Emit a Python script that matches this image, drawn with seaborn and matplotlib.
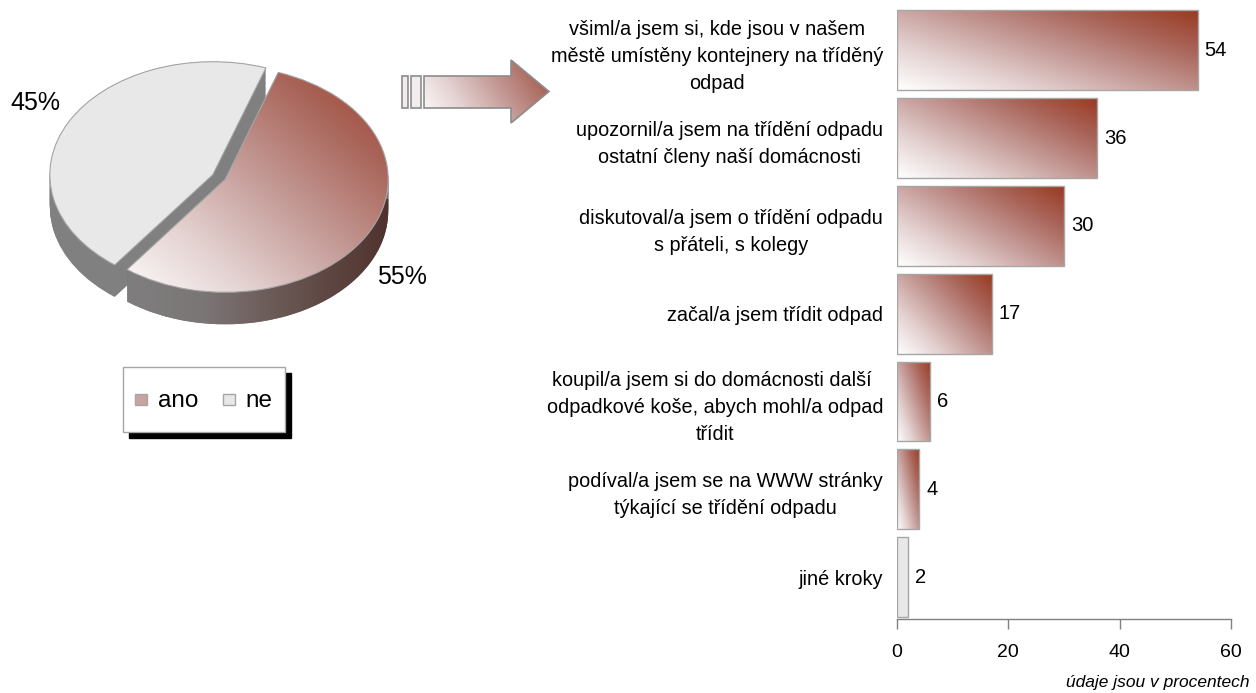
import numpy as np
import matplotlib
matplotlib.use('Agg')
import matplotlib.pyplot as plt
import seaborn as sns
from matplotlib.colors import LinearSegmentedColormap
from matplotlib.patches import Polygon, Rectangle, Patch
from matplotlib.legend_handler import HandlerPatch

# --- data -------------------------------------------------------------
pie_labels = ['ano', 'ne']
pie_values = [55, 45]
pie_texts = ['55%', '45%']

steps = [
    'všiml/a jsem si, kde jsou v našem\nměstě umístěny kontejnery na tříděný\nodpad',
    'upozornil/a jsem na třídění odpadu\nostatní členy naší domácnosti',
    'diskutoval/a jsem o třídění odpadu\ns přáteli, s kolegy',
    'začal/a jsem třídit odpad',
    'koupil/a jsem si do domácnosti další \nodpadkové koše, abych mohl/a odpad\ntřídit',
    'podíval/a jsem se na WWW stránky\ntýkající se třídění odpadu',
    'jiné kroky',
]
step_values = [54, 36, 30, 17, 6, 4, 2]
x_ticks = [0, 20, 40, 60]

# --- style ------------------------------------------------------------
sns.set_theme(style='white')
plt.rcParams['font.family'] = ['Liberation Sans', 'DejaVu Sans']
plt.rcParams['text.color'] = 'black'
plt.rcParams['xtick.labelcolor'] = 'black'
plt.rcParams['ytick.labelcolor'] = 'black'

W, H = 1256, 693
GREY_EDGE = '#a6a6a6'
LIGHT = '#e8e8e8'
grad_cmap = LinearSegmentedColormap.from_list(
    'brick', ['#ffffff', '#e4d3d2', '#c59c98', '#aa675c', '#9a3a22'])
side_cmap = LinearSegmentedColormap.from_list(
    'side', ['#808080', '#7b7676', '#65504c', '#4e2f2a'])


def box(x0, y0, x1, y1):
    """pixel box (origin top-left) -> figure fraction rect"""
    return [x0 / W, 1 - y1 / H, (x1 - x0) / W, (y1 - y0) / H]


def gradient(wu, wv, n=200):
    g = np.linspace(0, 1, n)
    uu, vv = np.meshgrid(g, g)
    return wu * uu + wv * vv


def square_handle(legend, orig_handle, xdescent, ydescent, width, height, fontsize):
    s = 8
    return Rectangle((-xdescent + (width - s) / 2, -ydescent + (height - s) / 2), s, s)


fig = plt.figure(figsize=(W / 100, H / 100), dpi=100)

# --- 3d-ish pie -------------------------------------------------------
cx, cy, rx, ry = 219, 177, 163, 113
start = 233
pax = fig.add_axes(box(0, 0, 440, 360))
depth = 32 / ry
explode = [0.043, 0.043]
for dz in np.linspace(depth, 0, 28):
    pax.pie(pie_values, startangle=start, explode=explode, center=(0, -dz),
            colors=['#7a7676', '#808080'], wedgeprops=dict(linewidth=0, zorder=1))
wedges, _ = pax.pie(pie_values, startangle=start, explode=explode,
                    colors=['none', LIGHT],
                    wedgeprops=dict(edgecolor=GREY_EDGE, linewidth=0.8, zorder=3))

# shaded outer side of the "ano" slice
mid = np.radians(start + 360 * pie_values[0] / 200)
ex, ey = explode[0] * np.cos(mid), explode[0] * np.sin(mid)
th = np.radians(np.linspace(start, 360, 120))
top_arc = np.column_stack([ex + np.cos(th), ey + np.sin(th)])
bot_arc = top_arc[::-1] - [0, depth]
side = Polygon(np.vstack([top_arc, bot_arc]), closed=True, facecolor='none',
               linewidth=0, zorder=1.6)
pax.add_patch(side)
simg = pax.imshow(gradient(1, 0), cmap=side_cmap, origin='lower', aspect='auto',
                  extent=(-0.7, 1.1, -1.4, -0.2), zorder=1.5)
simg.set_clip_path(side)

img = pax.imshow(gradient(0.5, 0.5), cmap=grad_cmap, origin='lower', aspect='auto',
                 extent=(-0.6, 1.1, -1.1, 1.0), zorder=2)
img.set_clip_path(wedges[0])
pax.set_aspect('auto')
pax.set_xlim(-cx / rx, (440 - cx) / rx)
pax.set_ylim((cy - 360) / ry, cy / ry)
pax.patch.set_visible(False)
pax.axis('off')
pax.text((402 - cx) / rx, (cy - 277) / ry, pie_texts[0], fontsize=18,
         ha='center', va='center', color='black')
pax.text((35 - cx) / rx, (cy - 103) / ry, pie_texts[1], fontsize=18,
         ha='center', va='center', color='black')

fig.legend(handles=[Patch(facecolor='#c9a3a0', edgecolor=GREY_EDGE, label=pie_labels[0]),
                    Patch(facecolor=LIGHT, edgecolor=GREY_EDGE, label=pie_labels[1])],
           handler_map={Patch: HandlerPatch(patch_func=square_handle)},
           loc='center', bbox_to_anchor=(204 / W, 1 - 399.5 / H), ncol=2,
           fontsize=17.5, frameon=True, fancybox=False, edgecolor=GREY_EDGE,
           framealpha=1, handlelength=0.46, handleheight=2.2, handletextpad=0.45,
           columnspacing=1.05, borderpad=0.5, labelcolor='black',
           shadow={'ox': 4.3, 'oy': -4.3, 'color': 'black', 'alpha': 1})

# --- arrow (decoration) -----------------------------------------------
deco = fig.add_axes([0, 0, 1, 1], zorder=5)
deco.axis('off')
deco.patch.set_visible(False)
arrow = Polygon([(424, 76), (511, 76), (511, 60), (549, 91.5), (511, 123),
                 (511, 108), (424, 108)], closed=True, facecolor='none',
                edgecolor='#8c8c8c', linewidth=1.2, zorder=3)
deco.add_patch(arrow)
aimg = deco.imshow(gradient(0.75, 0.25), cmap=grad_cmap, origin='lower', aspect='auto',
                   extent=(424, 549, 123, 60), vmin=0, vmax=1.15, zorder=2)
aimg.set_clip_path(arrow)
for x0, x1 in [(402, 408), (411, 421)]:
    deco.add_patch(Rectangle((x0, 76), x1 - x0, 32, facecolor='#f2ecec',
                             edgecolor='#8c8c8c', linewidth=1.2))
deco.set_xlim(0, W)
deco.set_ylim(H, 0)

# --- bars --------------------------------------------------------------
bax = fig.add_axes(box(897, 2, 1231, 619))
sns.barplot(x=step_values, y=steps, orient='h', width=0.91, color=LIGHT,
            saturation=1, edgecolor=GREY_EDGE, linewidth=1, ax=bax)
bars = list(bax.patches)
for p in bars[:-1]:
    x, y, w, h = p.get_x(), p.get_y(), p.get_width(), p.get_height()
    im = bax.imshow(gradient(0.55, 0.45), cmap=grad_cmap, origin='lower', aspect='auto',
                    extent=(x, x + w, y + h, y), zorder=0.5)
    im.set_clip_path(p)
    p.set_facecolor('none')
bax.bar_label(bax.containers[0], padding=5, fontsize=14.5, color='black')

bax.set_xlim(0, 60)
bax.set_ylim(6.478, -0.55)
bax.set_xticks(x_ticks)
bax.set_xlabel('')
bax.set_ylabel('')
for s in ['left', 'top', 'right']:
    bax.spines[s].set_visible(False)
bax.spines['bottom'].set_color('#808080')
bax.spines['bottom'].set_linewidth(1)
bax.tick_params(axis='x', length=7, width=1, color='#808080', labelsize=14,
                labelcolor='black', pad=11, bottom=True)
bax.tick_params(axis='y', length=0, labelsize=14.3, labelcolor='black', pad=10)
for lbl in bax.get_yticklabels():
    lbl.set_multialignment('center')
    lbl.set_linespacing(1.55)
bax.patch.set_visible(False)

fig.text(1250 / W, 1 - 682 / H, 'údaje jsou v procentech', ha='right', va='center',
         style='italic', fontsize=12.5, color='black')

fig.savefig('out.png', dpi=100)
